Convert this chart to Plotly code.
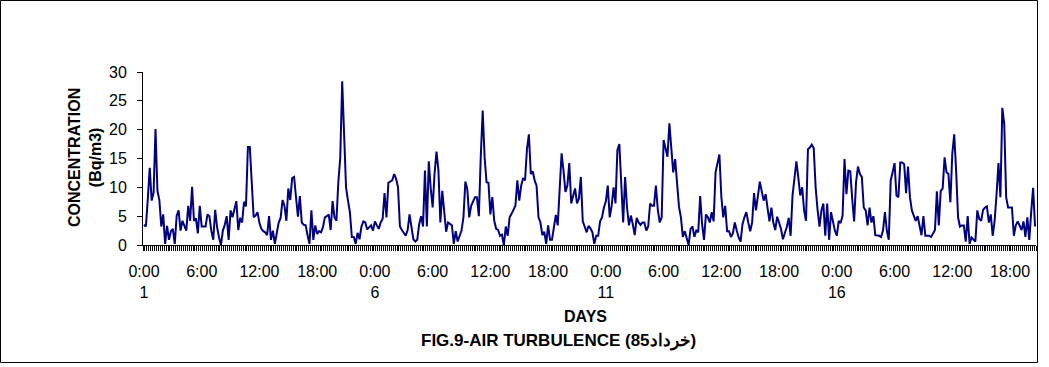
import plotly.graph_objects as go

# Hourly radon concentration (Bq/m3), starting day 1 0:00
concentration = [
    3.5, 3.2, 8.0, 13.4, 7.7, 9.1, 20.1, 9.4, 7.8, 3.2, 5.3,
    0.2, 3.3, 0.9, 2.4, 2.8, 0.2, 5.1, 6.0, 2.5, 4.2,
    3.3, 2.5, 6.8, 4.2, 10.1, 4.2, 4.6, 2.0, 6.8,
    3.2, 3.2, 3.2, 5.3, 5.0, 2.5, 0.9, 6.1, 3.1,
    1.3, 0.0, 2.5, 3.5, 5.0, 0.9, 6.0, 4.8, 6.2,
    7.6, 2.6, 4.7, 3.9, 7.5, 6.7, 17.0, 17.0, 11.7,
    4.8, 5.1, 5.7, 3.8, 2.8, 2.4, 2.2, 1.7, 5.0, 0.9,
    2.5, 0.2, 1.9, 3.9, 4.7, 7.8, 6.8, 4.2, 9.8, 7.8,
    11.6, 11.8, 8.3, 4.9, 8.5, 3.9, 3.5, 3.4, 1.7, 0.2,
    6.0, 0.9, 3.4, 1.9, 2.4,
    2.2, 3.1, 4.8, 5.0, 5.3, 2.6, 7.6, 4.8, 4.2, 10.9,
    15.2, 28.4, 19.2, 10.0, 7.7, 5.7, 1.4, 1.4, 0.2, 2.1,
    1.0, 3.2, 4.1, 3.9, 2.7, 3.1, 3.4, 2.5, 4.1, 3.4,
    2.8, 3.9, 4.5, 9.0, 4.8, 10.8, 11.0, 11.2, 12.3, 11.5, 10.0,
    3.2, 2.6, 2.0, 1.6, 2.6, 5.3, 3.1, 1.0, 0.6, 0.9,
    3.6, 5.0, 3.2, 12.9, 3.2, 14.5, 9.8, 6.5, 12.4, 16.2,
    13.0, 3.9, 9.4, 6.0, 2.3, 3.9, 3.6, 3.4, 0.2, 2.4, 0.6,
    1.4, 2.5, 4.8, 11.0, 9.7, 4.8, 6.8, 7.5, 8.3, 8.3,
    5.0, 15.3, 23.3, 15.2, 10.9, 10.8, 5.3, 8.3, 4.2, 2.8,
    2.6, 1.6,
    1.8, 0.0, 3.2, 1.6, 4.8, 5.4, 6.2, 6.8, 11.2,
    7.7, 10.3, 11.6, 11.2, 16.6, 19.2, 12.3, 12.8, 11.2, 10.3,
    4.8, 3.9, 1.7, 2.3, 0.2, 3.4, 0.9, 0.9, 3.1, 5.2,
    3.4, 10.0, 15.9, 12.9, 9.2, 10.3, 14.2, 7.2, 8.3, 9.8,
    7.2, 8.0, 11.8, 4.1, 3.2, 2.2, 3.3, 2.9, 2.2, 0.2,
    1.6, 1.6, 4.1, 4.8, 6.5, 7.6, 10.3, 4.8, 6.8, 10.0,
    7.2, 16.5, 17.5, 9.3, 3.9, 11.8, 6.5, 3.4, 5.1, 3.6,
    1.7, 4.7, 3.9, 3.5, 3.9, 3.9, 2.5, 3.2, 7.2, 6.8, 6.8, 10.3,
    6.1, 3.9, 4.8, 18.2, 16.6, 15.3, 21.1, 16.4, 12.6, 14.9,
    10.6, 6.6,
    4.8, 1.4, 2.4, 1.0, 0.0, 2.8, 3.2, 1.4, 2.5, 2.2, 8.5,
    3.6, 0.9, 5.3, 4.8, 3.9, 5.7, 4.1, 12.6, 14.2, 15.7, 8.4,
    4.8, 6.8, 2.4, 2.4, 1.4, 2.0, 3.9, 2.5, 1.3, 0.6,
    3.6, 4.8, 5.7, 3.9, 2.4, 3.9, 9.0, 6.0, 9.1, 11.0,
    9.3, 7.7, 8.8, 6.5, 4.1, 6.5, 3.9, 2.6, 4.9, 3.9,
    2.8, 1.0, 1.9, 3.1, 4.7, 1.6, 8.6, 11.7, 14.5, 11.7,
    8.6, 10.0, 6.0, 4.2, 16.6, 16.9, 17.4, 16.8, 10.0, 6.1,
    3.2, 6.0, 7.2, 1.6, 7.2, 0.9, 5.7, 4.1, 2.5, 1.6,
    4.2, 3.8, 5.1, 14.9, 8.8, 12.9, 12.8, 8.0, 4.1, 10.9,
    13.6, 12.3, 11.8,
    6.5, 6.0, 3.4, 6.5, 3.9, 5.0, 1.7, 1.7, 1.6,
    1.4, 2.5, 5.7, 2.5, 0.9, 11.2, 12.6, 14.2, 8.6, 8.3,
    14.3, 14.3, 14.0, 9.0, 13.6, 8.3, 6.0, 5.1, 4.2, 5.0,
    3.2, 1.7, 5.0, 1.6, 1.6, 1.6, 1.4, 1.9, 2.6, 9.3,
    3.4, 9.4, 9.8, 15.2, 12.6, 12.3, 7.4, 15.8, 19.2, 12.9,
    4.8, 3.2, 3.4, 3.4, 0.6, 5.0, 0.2, 1.3, 1.0, 0.6,
    6.0, 4.5, 4.2, 6.1, 6.5, 6.7, 3.9, 5.3, 1.6, 4.2,
    8.8, 14.2, 8.3, 23.8, 21.0, 8.3, 6.5, 6.5, 6.5, 1.6,
    3.4, 4.1, 3.4, 2.6, 4.1, 1.4, 4.8, 0.9, 5.7, 9.9,
    3.2,
]
hours = list(range(len(concentration)))

tick_hours = [0, 30, 60, 90, 120, 150, 180, 210, 240, 270, 300, 330, 360, 390, 420, 450]
tick_labels = ["0:00<br>1", "6:00", "12:00", "18:00",
               "0:00<br>6", "6:00", "12:00", "18:00",
               "0:00<br>11", "6:00", "12:00", "18:00",
               "0:00<br>16", "6:00", "12:00", "18:00"]
y_ticks = [0, 5, 10, 15, 20, 25, 30]

FONT = "Liberation Sans, Arial, sans-serif"
W, H = 1049, 367
L, R, T, B = 143, 13, 72, 122
pw, ph = W - L - R, H - T - B

def px(x):
    return (x - L) / pw

def py(y):
    return (H - B - y) / ph

fig = go.Figure()
fig.add_trace(go.Scatter(
    x=hours, y=concentration, mode="lines",
    line=dict(color="#000080", width=2),
    hoverinfo="skip", showlegend=False,
))

fig.update_layout(
    width=W, height=H,
    margin=dict(l=L, r=R, t=T, b=B),
    paper_bgcolor="white", plot_bgcolor="white",
    font=dict(family=FONT, size=16, color="black"),
    xaxis=dict(
        range=[-0.5, len(concentration) - 0.5],
        tickmode="array", tickvals=tick_hours, ticktext=tick_labels,
        ticks="", showgrid=False, zeroline=False,
        showline=True, linecolor="black", linewidth=1,
        tickfont=dict(size=16), ticklabelstandoff=12,
        minor=dict(ticks="outside", tickmode="linear", tick0=-0.5, dtick=1,
                   ticklen=5, tickwidth=1, tickcolor="black", showgrid=False),
    ),
    yaxis=dict(
        range=[0, 30], tickmode="array", tickvals=y_ticks,
        ticks="outside", ticklen=5, tickcolor="black",
        showgrid=False, zeroline=False,
        showline=True, linecolor="black", linewidth=1,
        tickfont=dict(size=16), ticklabelstandoff=7,
    ),
    annotations=[
        dict(text="<b>CONCENTRATION<br>(Bq/m3)</b>", textangle=-90,
             xref="paper", yref="paper", x=px(85), y=py(158),
             xanchor="center", yanchor="middle", showarrow=False,
             font=dict(size=16, family=FONT)),
        dict(text="<b>DAYS</b>", xref="paper", yref="paper",
             x=px(585), y=py(316), xanchor="center", yanchor="middle",
             showarrow=False, font=dict(size=16, family=FONT)),
        dict(text="<b>FIG.9-AIR TURBULENCE (85خرداد)</b>", xref="paper", yref="paper",
             x=px(558), y=py(341), xanchor="center", yanchor="middle",
             showarrow=False, font=dict(size=17, family=FONT)),
    ],
    shapes=[
        dict(type="rect", xref="paper", yref="paper",
             x0=px(0.5), x1=px(1037.5), y0=py(362.5), y1=py(0.5),
             line=dict(color="black", width=1), layer="above"),
    ],
)

fig.write_html(
    "out.html",
    config={"displayModeBar": False, "staticPlot": True},
    post_script="document.body.style.margin='0';document.body.style.overflow='hidden';",
)
